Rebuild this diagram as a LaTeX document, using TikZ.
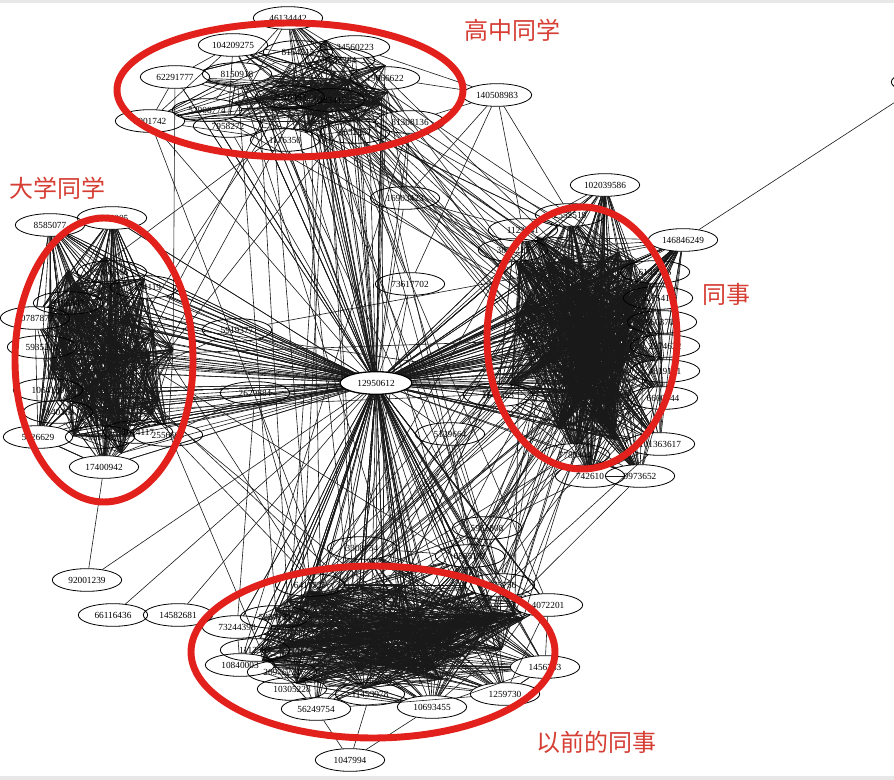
\documentclass[tikz,border=0pt]{standalone}
\usepackage{fontspec}
\setmainfont{Liberation Serif}
\newfontfamily\cjkfont{Noto Sans CJK SC}
\usetikzlibrary{shapes.geometric,backgrounds}
\definecolor{ringred}{RGB}{226,32,28}
\definecolor{tagred}{RGB}{214,62,52}
% random edges inside one cluster
\newcommand\RandEdges[3]{%
  \pgfmathtruncatemacro\nmone{#2-1}%
  \foreach \k in {1,...,#3}{%
    \pgfmathtruncatemacro\ea{random(1,#2)}%
    \pgfmathtruncatemacro\eoff{random(1,\nmone)}%
    \pgfmathtruncatemacro\eb{mod(\ea+\eoff-1,#2)+1}%
    \draw[edge] (#1\ea) -- (#1\eb);
  }}
% random edges between two clusters
\newcommand\CrossEdges[5]{%
  \foreach \k in {1,...,#5}{%
    \pgfmathtruncatemacro\ea{random(1,#2)}%
    \pgfmathtruncatemacro\eb{random(1,#4)}%
    \draw[edge] (#1\ea) -- (#3\eb);
  }}
% random edges from a cluster to one node
\newcommand\StarEdges[4]{%
  \foreach \k in {1,...,#3}{%
    \pgfmathtruncatemacro\ea{random(1,#2)}%
    \draw[edge] (#1\ea) -- (#4);
  }}
% hidden member points of a cluster
\newcommand\Scatter[8]{%
  \foreach \i in {#2,...,#3}{%
    \pgfmathsetmacro\sa{rnd*360}%
    \pgfmathsetmacro\sr{#8+(1-#8)*rnd}%
    \coordinate (#1\i) at ({#4+#6*\sr*cos(\sa)},{#5+#7*\sr*sin(\sa)});
  }}
\begin{document}
\begin{tikzpicture}[x=0.75pt,y=-0.75pt,
  gnode/.style={ellipse,draw,line width=0.6pt,minimum width=52pt,minimum height=17pt,inner sep=0pt,font=\fontsize{7}{8}\selectfont},
  hub/.style={gnode,fill=white,line width=1pt,minimum width=54pt},
  edge/.style={draw=black!90,line width=0.45pt},
  ring/.style={draw=ringred,line width=5.2pt},
  tag/.style={text=tagred,font=\cjkfont\fontsize{18}{20}\selectfont,inner sep=0pt}]
\useasboundingbox (0,0) rectangle (894,780);
\pgfmathsetseed{4242}

% ---------- nodes ----------
\node[hub] (c) at (376,383) {12950612};

\foreach \n/\x/\y/\s in {t1/288/18/46134442, t2/233/45/104209275, t3/355/47/34560223, t4/298/52/8154515,
  t5/175/77/62291777, t6/237/74/8150918, t7/385/78/19066622, t8/340/60/1582284, t9/207/110/52908774,
  t10/150/121/2001742, t11/228/126/7958272, t12/410/122/81308136, t13/285/140/1176350,
  t14/355/132/1652957, t15/330/100/5283417, t16/290/97/2916483}
  {\node[gnode] (\n) at (\x,\y) {\s};}

\foreach \n/\x/\y/\s in {l1/50/225/8585077, l2/112/218/2766005, l3/112/272/2696566, l4/145/287/3174119,
  l5/68/303/3196547, l6/35/318/10787872, l7/42/347/5935214, l8/48/390/1064130, l9/38/437/5126629,
  l10/100/437/2059413, l11/138/432/1614117, l12/168/435/2556604, l13/104/467/17400942, l14/58/412/7140363}
  {\node[gnode] (\n) at (\x,\y) {\s};}

\foreach \n/\x/\y/\s in {r1/605/185/102039586, r2/523/230/1123541, r3/513/250/3852217, r4/570/215/2552519,
  r5/683/240/146846249, r6/655/272/6145566, r7/658/298/3275411, r8/662/322/5603708, r9/665/346/2374622,
  r10/665/371/4819181, r11/663/398/6600444, r12/660/444/101363617, r13/590/476/742610,
  r14/640/476/9973652, r15/575/455/7785404, r16/498/395/1141553}
  {\node[gnode] (\n) at (\x,\y) {\s};}

\foreach \n/\x/\y/\s in {b1/237/627/73244398, b2/275/617/5857185, b3/240/665/10840003, b4/282/672/20976221,
  b5/292/689/10305228, b6/316/709/56249754, b7/370/694/11453978, b8/432/707/10693455, b9/505/694/1259730,
  b10/545/667/1456733, b11/548/605/4072201, b12/500/585/2875756, b13/310/585/6411725,
  b14/362/548/3308754, b15/470/556/6555197, b16/255/650/1112587}
  {\node[gnode] (\n) at (\x,\y) {\s};}

\foreach \n/\x/\y/\s in {o1/87/580/92001239, o2/113/615/66116436, o3/178/615/14582681, o4/350/760/1047994,
  o5/487/528/5951808, o6/497/95/140508983, o7/405/198/16903423, o8/410/284/73617702,
  o9/450/434/5129664, o10/237/330/5919377, o11/255/393/2629884}
  {\node[gnode] (\n) at (\x,\y) {\s};}
% node that lies almost wholly beyond the right edge: only its outline shows
\node[gnode] (o12) at (926,82) {};

\Scatter{t}{17}{44}{330}{88}{85}{48}{0.1}
\Scatter{l}{15}{50}{108}{355}{70}{118}{0.1}
\Scatter{r}{17}{74}{582}{330}{86}{120}{0.1}
\Scatter{b}{17}{62}{390}{640}{150}{58}{0.2}

% ---------- connectors ----------
\begin{scope}[on background layer]
  \fill[white] (0,0) rectangle (894,780);
  \fill[black!9] (0,0) rectangle (894,3);
  \fill[black!9] (0,776) rectangle (894,780);
  \RandEdges{t}{44}{420}
  \RandEdges{l}{50}{900}
  \RandEdges{r}{74}{1500}
  \RandEdges{b}{62}{900}
  \StarEdges{t}{44}{45}{c}
  \StarEdges{l}{50}{75}{c}
  \StarEdges{r}{74}{100}{c}
  \StarEdges{b}{62}{90}{c}
  \CrossEdges{t}{44}{r}{74}{32}
  \CrossEdges{t}{44}{b}{62}{20}
  \CrossEdges{r}{74}{b}{62}{50}
  \CrossEdges{l}{50}{b}{62}{6}
  \CrossEdges{l}{50}{r}{74}{6}
  \CrossEdges{l}{50}{t}{44}{6}
  \foreach \u/\v in {o6/t12, o6/t7, o6/t3, o6/o7, o6/r2, o6/r4, o6/o8,
     o7/t12, o7/t14, o7/t7, o7/c, o7/r2, o7/r3,
     o8/t15, o8/t8, o8/c, o8/b14, o8/b12,
     o9/c, o9/r16, o9/r20, o9/r25, o9/b15, o9/b12, o9/b20,
     o10/c, o10/l4, o10/l20, o10/l25, o10/r30,
     o11/c, o11/l12, o11/l22, o11/b1, o11/b13,
     o1/c, o1/l13, o2/c, o3/c, o3/b1,
     o4/b6, o4/b8, o4/b7,
     o5/r15, o5/r13, o5/r40, o5/r45, o5/b12, o5/b15, o5/b11, o5/b20, o5/b25, o5/c,
     o12/r5, t13/c, r1/r4, r1/r20, r1/r30}
    {\draw[edge] (\u) -- (\v);}
\end{scope}

% ---------- red rings and tags ----------
\draw[ring] (290,90) ellipse [x radius=129.75pt, y radius=50.25pt];
\draw[ring] (104,360) ellipse [x radius=66.75pt, y radius=106.5pt];
\draw[ring] (582,338) ellipse [x radius=71.25pt, y radius=98.25pt];
\draw[ring] (373,652) ellipse [x radius=136.5pt, y radius=64.5pt];

\node[tag] (g1) at (512,30) {高中同学};
\node[tag] (g2) at (58,188) {大学同学};
\node[tag] (g3) at (726,294) {同事};
\node[tag] (g4) at (596,742) {以前的同事};
\end{tikzpicture}
\end{document}
